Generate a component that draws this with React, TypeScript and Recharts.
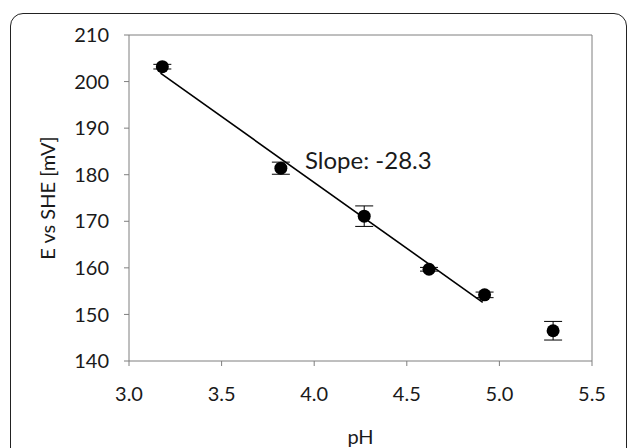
import {
  ScatterChart, Scatter, XAxis, YAxis, ErrorBar, ReferenceLine, ReferenceDot, Label,
} from 'recharts';

// measured points
const phValues = [3.18, 3.82, 4.27, 4.62, 4.92, 5.29];
const potentials = [203.2, 181.4, 171.1, 159.7, 154.2, 146.5];
const errors = [0.5, 1.3, 2.2, 0.4, 0.6, 2.0];

// linear fit drawn over the first five points
const fitX = [3.17, 4.91];
const fitY = [201.8, 152.6];

const xTicks = [3.0, 3.5, 4.0, 4.5, 5.0, 5.5];
const yTicks = [140, 150, 160, 170, 180, 190, 200, 210];

const slopeText = 'Slope: -28.3';

const points = phValues.map((x, i) => ({ x, y: potentials[i], err: errors[i] }));

const axisColor = '#7f7f7f';
const textColor = '#1a1a1a';
const font = 'Lato, sans-serif';

const Dot = (props: any) => <circle cx={props.cx} cy={props.cy} r={6.5} fill="#000" />;

export default function App() {
  return (
    <div style={{ position: 'absolute', left: 0, top: 0, width: 629, height: 448, overflow: 'hidden', background: '#fff', fontFamily: font }}>
      <div
        style={{
          position: 'absolute', left: 10, top: 13, width: 617, height: 460,
          border: '1px solid #222', borderRadius: 13, boxSizing: 'border-box',
        }}
      />
      <div style={{ position: 'absolute', left: 0, top: 0 }}>
        <ScatterChart width={629} height={448} margin={{ top: 35, right: 37, left: 0, bottom: 0 }}>
          <XAxis
            type="number"
            dataKey="x"
            domain={[3, 5.5]}
            ticks={xTicks}
            tickFormatter={(v: number) => v.toFixed(1)}
            height={87}
            stroke={axisColor}
            tickSize={5}
            tickMargin={21}
            tick={{ fontSize: 20, fill: textColor, fontFamily: font }}
            allowDataOverflow
          >
            <Label value="pH" position="insideBottom" offset={4} fontSize={20} fill={textColor} fontFamily={font} />
          </XAxis>
          <YAxis
            type="number"
            dataKey="y"
            domain={[140, 210]}
            ticks={yTicks}
            width={129}
            stroke={axisColor}
            tickSize={5}
            tickMargin={15}
            tick={{ fontSize: 20, fill: textColor, fontFamily: font }}
            allowDataOverflow
          >
            <Label
              value="E vs SHE [mV]"
              angle={-90}
              position="insideLeft"
              offset={48}
              fontSize={20}
              fill={textColor}
              fontFamily={font}
              style={{ textAnchor: 'middle' }}
            />
          </YAxis>
          <ReferenceLine y={210} stroke={axisColor} />
          <ReferenceLine x={5.5} stroke={axisColor} />
          <ReferenceLine
            segment={[{ x: fitX[0], y: fitY[0] }, { x: fitX[1], y: fitY[1] }]}
            stroke="#000"
            strokeWidth={1.6}
          />
          <ReferenceDot
            x={3.95}
            y={183.1}
            r={0}
            fill="none"
            stroke="none"
            label={{ value: slopeText, position: 'right', offset: 0, fontSize: 24, fill: textColor, fontFamily: font }}
          />
          <Scatter data={points} shape={Dot} isAnimationActive={false}>
            <ErrorBar dataKey="err" direction="y" width={9} stroke="#000" strokeWidth={1} />
          </Scatter>
        </ScatterChart>
      </div>
    </div>
  );
}
